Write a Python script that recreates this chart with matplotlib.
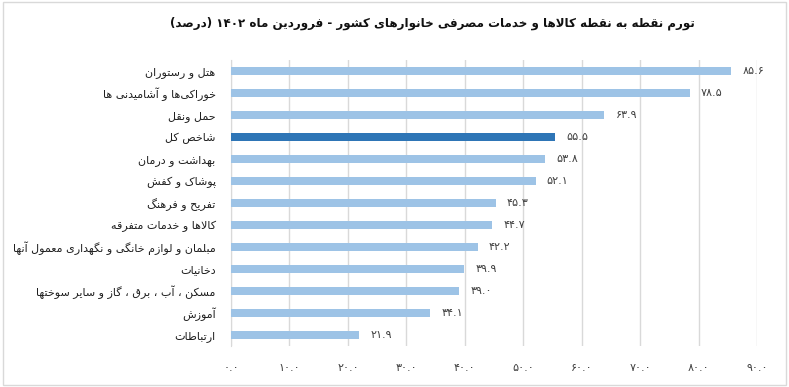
import matplotlib.pyplot as plt
from matplotlib.patches import Rectangle

# داده ها
categories = [
    "هتل و رستوران",
    "خوراکی\u200cها و آشامیدنی ها",
    "حمل ونقل",
    "شاخص کل",
    "بهداشت و درمان",
    "پوشاک و کفش",
    "تفریح و فرهنگ",
    "کالاها و خدمات متفرقه",
    "مبلمان و لوازم خانگی و نگهداری معمول آنها",
    "دخانیات",
    "مسکن ، آب ، برق ، گاز و سایر سوختها",
    "آموزش",
    "ارتباطات",
]
values = [85.6, 78.5, 63.9, 55.5, 53.8, 52.1, 45.3, 44.7, 42.2, 39.9, 39.0, 34.1, 21.9]
highlight = "شاخص کل"
title = "تورم نقطه به نقطه کالاها و خدمات مصرفی خانوارهای کشور - فروردین ماه ۱۴۰۲ (درصد)"
xticks = [0, 10, 20, 30, 40, 50, 60, 70, 80, 90]

# شکل دهی ساده حروف فارسی (بدون کتابخانه بیرونی)
# (منفرد، پایانی، آغازی، میانی)
FORMS = {
    "ء": (0xFE80,), "آ": (0xFE81, 0xFE82), "أ": (0xFE83, 0xFE84),
    "ؤ": (0xFE85, 0xFE86), "إ": (0xFE87, 0xFE88),
    "ئ": (0xFE89, 0xFE8A, 0xFE8B, 0xFE8C), "ا": (0xFE8D, 0xFE8E),
    "ب": (0xFE8F, 0xFE90, 0xFE91, 0xFE92), "ة": (0xFE93, 0xFE94),
    "ت": (0xFE95, 0xFE96, 0xFE97, 0xFE98), "ث": (0xFE99, 0xFE9A, 0xFE9B, 0xFE9C),
    "ج": (0xFE9D, 0xFE9E, 0xFE9F, 0xFEA0), "ح": (0xFEA1, 0xFEA2, 0xFEA3, 0xFEA4),
    "خ": (0xFEA5, 0xFEA6, 0xFEA7, 0xFEA8), "د": (0xFEA9, 0xFEAA),
    "ذ": (0xFEAB, 0xFEAC), "ر": (0xFEAD, 0xFEAE), "ز": (0xFEAF, 0xFEB0),
    "س": (0xFEB1, 0xFEB2, 0xFEB3, 0xFEB4), "ش": (0xFEB5, 0xFEB6, 0xFEB7, 0xFEB8),
    "ص": (0xFEB9, 0xFEBA, 0xFEBB, 0xFEBC), "ض": (0xFEBD, 0xFEBE, 0xFEBF, 0xFEC0),
    "ط": (0xFEC1, 0xFEC2, 0xFEC3, 0xFEC4), "ظ": (0xFEC5, 0xFEC6, 0xFEC7, 0xFEC8),
    "ع": (0xFEC9, 0xFECA, 0xFECB, 0xFECC), "غ": (0xFECD, 0xFECE, 0xFECF, 0xFED0),
    "ف": (0xFED1, 0xFED2, 0xFED3, 0xFED4), "ق": (0xFED5, 0xFED6, 0xFED7, 0xFED8),
    "ل": (0xFEDD, 0xFEDE, 0xFEDF, 0xFEE0), "م": (0xFEE1, 0xFEE2, 0xFEE3, 0xFEE4),
    "ن": (0xFEE5, 0xFEE6, 0xFEE7, 0xFEE8), "ه": (0xFEE9, 0xFEEA, 0xFEEB, 0xFEEC),
    "و": (0xFEED, 0xFEEE),
    "پ": (0xFB56, 0xFB57, 0xFB58, 0xFB59), "چ": (0xFB7A, 0xFB7B, 0xFB7C, 0xFB7D),
    "ژ": (0xFB8A, 0xFB8B), "ک": (0xFB8E, 0xFB8F, 0xFB90, 0xFB91),
    "گ": (0xFB92, 0xFB93, 0xFB94, 0xFB95), "ی": (0xFBFC, 0xFBFD, 0xFBFE, 0xFBFF),
}
LAM_ALEF = {"آ": (0xFEF5, 0xFEF6), "أ": (0xFEF7, 0xFEF8),
            "إ": (0xFEF9, 0xFEFA), "ا": (0xFEFB, 0xFEFC)}


def joins_next(c):
    return c in FORMS and len(FORMS[c]) == 4


def joins_prev(c):
    return c in FORMS and len(FORMS[c]) >= 2


def fa(text):
    # ادغام لا
    chars = []
    i = 0
    while i < len(text):
        if text[i] == "ل" and i + 1 < len(text) and text[i + 1] in LAM_ALEF:
            chars.append(("LA", text[i + 1]))
            i += 2
        else:
            chars.append((text[i], None))
            i += 1
    out = []
    for k, (c, extra) in enumerate(chars):
        prev = chars[k - 1][0] if k > 0 else None
        nxt = chars[k + 1][0] if k + 1 < len(chars) else None
        if prev == "LA":
            prev = "ا"
        p = prev is not None and joins_next(prev)
        if c == "LA":
            out.append(chr(LAM_ALEF[extra][1 if p else 0]))
            continue
        if c not in FORMS:
            if c != "\u200c":
                out.append(c)
            continue
        f = FORMS[c]
        n = joins_next(c) and nxt is not None and (nxt == "LA" or joins_prev(nxt))
        p = p and joins_prev(c)
        if p and n:
            out.append(chr(f[3]))
        elif n:
            out.append(chr(f[2]))
        elif p:
            out.append(chr(f[1]))
        else:
            out.append(chr(f[0]))
    s = "".join(out)[::-1]
    # اعداد از چپ به راست، پرانتز قرینه
    res, run = "", ""
    for c in s:
        if c.isdigit():
            run += c
            continue
        res += run[::-1]
        run = ""
        res += {"(": ")", ")": "("}.get(c, c)
    res += run[::-1]
    return res


def fa_num(v, fmt="{:.1f}"):
    s = fmt.format(v)
    return s.translate(str.maketrans("0123456789", "۰۱۲۳۴۵۶۷۸۹"))


plt.rcParams['font.family'] = ['DejaVu Sans']

fig = plt.figure(figsize=(7.89, 3.87), dpi=100)
fig.patches.append(Rectangle((0.004, 0.006), 0.992, 0.988, transform=fig.transFigure,
                             fill=False, edgecolor="#D9D9D9", linewidth=1))
ax = fig.add_axes([0.2928, 0.106, 0.6667, 0.739])

y = list(range(len(categories)))
colors = ["#2E75B6" if c == highlight else "#9DC3E6" for c in categories]
ax.barh(y, values, height=0.38, color=colors, zorder=3)

for yi, v in zip(y, values):
    ax.text(v + 1.9, yi, fa_num(v), va="center", ha="left", fontsize=8, color="#404040")

ax.set_xlim(0, 90)
ax.set_ylim(len(categories) - 0.5, -0.5)
ax.set_yticks(y)
ax.set_yticklabels([fa(c) for c in categories], fontsize=8, color="#202020")
ax.set_xticks(xticks)
ax.set_xticklabels([fa_num(t) for t in xticks], fontsize=8, color="#404040")
ax.tick_params(axis="both", length=0)
ax.tick_params(axis="y", pad=11)
ax.tick_params(axis="x", pad=12)
ax.grid(axis="x", color="#D9D9D9", linewidth=1, zorder=0)
for s in ["top", "right", "bottom"]:
    ax.spines[s].set_visible(False)
ax.spines["left"].set_color("#D9D9D9")

fig.text(0.548, 0.94, fa(title), ha="center", va="center", fontsize=8.6,
         fontweight="bold", color="#111111")

fig.savefig("out.png", dpi=100)
